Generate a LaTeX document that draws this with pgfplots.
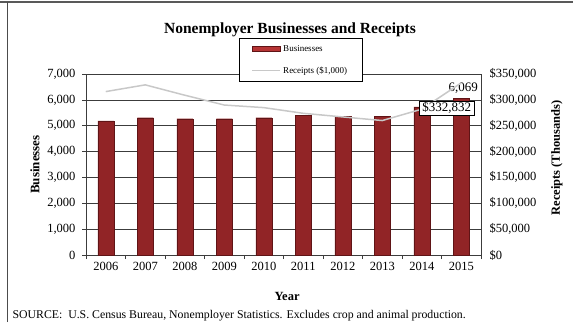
\documentclass[border=0pt]{standalone}
\usepackage{fontspec}
\setmainfont{Liberation Serif}
\usepackage{pgfplots}
\pgfplotsset{compat=1.18}

\definecolor{barred}{RGB}{182,52,52}
\definecolor{barside}{RGB}{145,36,38}
\definecolor{baredge}{RGB}{95,20,22}
\definecolor{linegray}{RGB}{200,200,200}
\definecolor{gridgray}{RGB}{60,60,60}

\begin{document}
\begin{tikzpicture}[x=1pt,y=1pt]
\path[use as bounding box] (0,0) rectangle (573,322);
\draw[gray!70!black, line width=2pt] (0,320) -- (573,320);
\draw[gray!60!black, line width=1.2pt] (7.5,0) -- (7.5,320);
\node[font=\fontsize{15.5}{18}\selectfont\bfseries] at (290,292) {Nonemployer Businesses and Receipts};
\node[anchor=west, font=\fontsize{11.8}{13}\selectfont] at (9,6) {SOURCE:\ \ U.S. Census Bureau, Nonemployer Statistics. Excludes crop and animal production.};

% businesses (left axis)
\begin{axis}[
  at={(86pt,67pt)}, anchor=south west,
  scale only axis, width=395pt, height=181pt,
  xmin=-0.5, xmax=9.5, ymin=0, ymax=7000,
  axis x line*=bottom, axis y line*=left,
  ybar, bar width=16pt,
  xtick={0,...,9},
  xticklabels={2006,2007,2008,2009,2010,2011,2012,2013,2014,2015},
  major x tick style={draw=none},
  minor xtick={-0.5,0.5,...,9.5},
  ytick={0,1000,...,7000},
  yticklabels={0,{1,000},{2,000},{3,000},{4,000},{5,000},{6,000},{7,000}},
  ymajorgrids, grid style={gridgray, line width=0.7pt},
  tick align=outside, major tick length=4pt, minor tick length=4pt,
  tick style={gridgray, line width=0.7pt},
  axis line style={gridgray, line width=0.8pt},
  tick label style={font=\fontsize{12.5}{14}\selectfont},
  y tick label style={xshift=-3pt},
  xlabel={Year}, ylabel={Businesses},
  xlabel style={at={(axis description cs:0.509,-0.2265)}, anchor=center, font=\fontsize{12.5}{14}\selectfont\bfseries},
  ylabel style={at={(axis description cs:-0.129,0.5)}, anchor=center, font=\fontsize{13}{15}\selectfont\bfseries},
]
\addplot[left color=barside, middle color=barred, right color=barside, draw=baredge]
  coordinates {(0,5190)(1,5310)(2,5270)(3,5270)(4,5310)(5,5410)(6,5370)(7,5370)(8,5730)(9,6069)};
\node[anchor=south, font=\fontsize{13}{15}\selectfont, inner sep=1pt] at (axis cs:9,6069) [yshift=3pt, xshift=2pt] {6,069};
\end{axis}

% receipts (right axis)
\begin{axis}[
  at={(86pt,67pt)}, anchor=south west,
  scale only axis, width=395pt, height=181pt,
  xmin=-0.5, xmax=9.5, ymin=0, ymax=350000,
  axis x line=none, axis y line*=right,
  scaled y ticks=false,
  ytick={0,50000,...,350000},
  yticklabels={\$0,{\$50,000},{\$100,000},{\$150,000},{\$200,000},{\$250,000},{\$300,000},{\$350,000}},
  ytick style={draw=none},
  axis line style={gridgray, line width=0.8pt},
  tick label style={font=\fontsize{12.5}{14}\selectfont},
  y tick label style={xshift=5pt},
  ylabel={Receipts (Thousands)},
  ylabel style={at={(axis description cs:1.192,0.536)}, anchor=center, font=\fontsize{12.5}{14}\selectfont\bfseries},
  legend style={at={(0.543,1.199)}, anchor=north, draw=black, fill=white,
    font=\fontsize{9}{10}\selectfont, row sep=10pt, inner xsep=13pt, inner ysep=5pt,
    cells={anchor=west}},
]
\addlegendimage{legend image code/.code={\fill[barred, draw=baredge] (0pt,-2.5pt) rectangle (28pt,2.5pt);}}
\addlegendentry{Businesses}
\addplot[linegray, line width=1.5pt, mark=none,
  legend image code/.code={\draw[linegray, line width=1.5pt] (0pt,0pt) -- (28pt,0pt);}]
  coordinates {(0,316000)(1,329000)(2,309000)(3,290000)(4,285000)(5,274000)(6,267000)(7,260000)(8,282000)(9,332832)};
\addlegendentry{Receipts (\$1,000)}
\node[draw=black, fill=white, anchor=north east, font=\fontsize{13}{15}\selectfont, inner xsep=3pt, inner ysep=1.5pt]
  at (axis cs:9,332832) [xshift=13pt, yshift=-18pt] {\$332,832};
\end{axis}
\end{tikzpicture}
\end{document}
